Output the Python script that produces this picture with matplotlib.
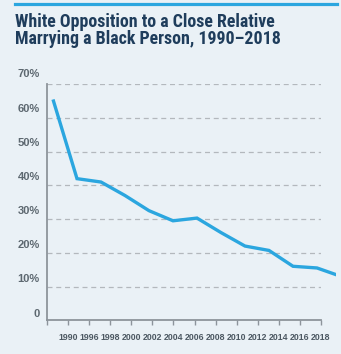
import matplotlib.pyplot as plt
from matplotlib import font_manager
from matplotlib.font_manager import FontProperties
from matplotlib.lines import Line2D

# White opposition to a close relative marrying a Black person (%)
years = ['1990', '1996', '1998', '2000', '2002', '2004', '2006',
         '2008', '2010', '2012', '2014', '2016', '2018']
opposition = [65.5, 42, 41, 37, 32.5, 29.5, 30.3, 26, 22, 20.7, 16, 15.5, 13]
pct_ticks = [0, 10, 20, 30, 40, 50, 60, 70]
pct_labels = ['0', '10%', '20%', '30%', '40%', '50%', '60%', '70%']
title_lines = ['White Opposition to a Close Relative',
               'Marrying a Black Person, 1990\u20132018']

bg = '#eaf1f6'
navy = '#1f3d5c'
blue = '#2ba6df'
axis_grey = '#8d949b'
label_grey = '#5d6870'

plt.rcParams['font.family'] = ['Liberation Sans', 'DejaVu Sans']


def condensed_bold():
    # look for a narrow/condensed bold face among the installed fonts
    prefs = ['LiberationSansNarrow-Bold', 'RobotoCondensed-Bold', 'NotoSans-CondensedBold',
             'OpenSans-CondensedBold', 'OpenSans_Condensed-Bold', 'DejaVuSansCondensed-Bold']
    files = [f.fname for f in font_manager.fontManager.ttflist]
    files += font_manager.findSystemFonts()
    for p in prefs:
        for f in files:
            if p.lower() in f.replace(' ', '').lower() and 'italic' not in f.lower():
                return FontProperties(fname=f)
    return FontProperties(family='Liberation Sans', weight='bold')


W, H = 341, 354


def box(x0, y0, x1, y1):
    # pixel box (top-left origin) -> figure fraction rect
    return [x0 / W, 1 - y1 / H, (x1 - x0) / W, (y1 - y0) / H]


fig = plt.figure(figsize=(W / 100, H / 100), dpi=100, facecolor=bg)
renderer = fig.canvas.get_renderer()

# blue rule and title
fig.add_artist(Line2D([15 / W, 337 / W], [1 - 3.5 / H] * 2, color=blue, lw=2.3))
tfont = condensed_bold()
tfont.set_size(13.2)
t1 = fig.text(15 / W, 1 - 26.7 / H, title_lines[0], fontproperties=tfont,
              color=navy, va='baseline')
w = t1.get_window_extent(renderer).width
if w > 262:
    tfont.set_size(13.2 * 260 / w)
    t1.set_fontproperties(tfont)
fig.text(15 / W, 1 - 44.3 / H, title_lines[1], fontproperties=tfont,
         color=navy, va='baseline')

# main frame: grid and axes
ax = fig.add_axes(box(47.3, 84.3, 320.7, 320.2))
ax.set_facecolor(bg)
ax.set_xlim(0, len(years))
ax.set_ylim(0, 70)
ax.set_xticks(range(len(years) + 1))
ax.set_xticklabels([''] + years)
ax.set_yticks(pct_ticks[1:])
ax.set_yticklabels([])
ax.tick_params(axis='y', length=0)
ax.tick_params(axis='x', length=3.5, width=1, color=axis_grey, pad=6,
               labelsize=6.3, labelcolor='#4c5862')
for lbl in ax.get_xticklabels():
    lbl.set_fontweight('bold')
ax.grid(axis='y', color='#b3b8bd', lw=0.9, linestyle=(0, (4, 3)))
for side in ['top', 'right']:
    ax.spines[side].set_visible(False)
for side in ['left', 'bottom']:
    ax.spines[side].set_color(axis_grey)
    ax.spines[side].set_linewidth(1.3)

# y labels
ay = fig.add_axes(box(47.3, 73.3, 48.3, 312.7))
ay.set_ylim(0, 70)
ay.set_yticks(pct_ticks)
ay.set_yticklabels(pct_labels)
ay.tick_params(axis='y', length=0, pad=5.5, labelsize=8, labelcolor=label_grey)
for lbl in ay.get_yticklabels():
    lbl.set_fontweight('bold')
ay.set_xticks([])
ay.patch.set_visible(False)
for s in ay.spines.values():
    s.set_visible(False)

# data line
al = fig.add_axes(box(47.3, 84.3, 336, 320.2))
al.set_xlim((47.3 - 53) / 24, (336 - 53) / 24)
al.set_ylim(0, 70)
al.plot(range(len(years)), opposition, color=blue, lw=2.4,
        solid_joinstyle='miter', solid_capstyle='butt')
al.axis('off')

fig.savefig('out.png', dpi=100, facecolor=bg)
